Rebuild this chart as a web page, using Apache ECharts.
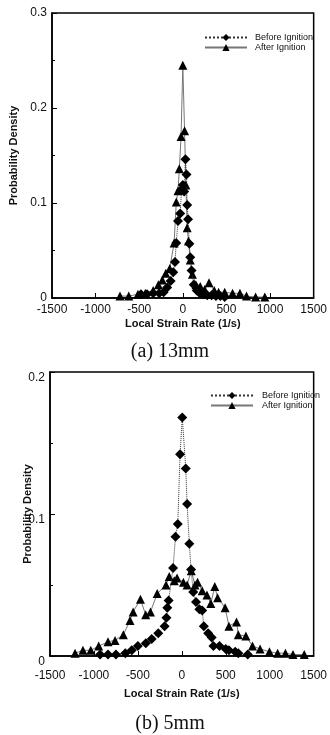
<!DOCTYPE html>
<html>
<head>
<meta charset="utf-8">
<script src="https://cdn.jsdelivr.net/npm/echarts@6/dist/echarts.min.js"></script>
<style>
html,body{margin:0;padding:0;background:#fff;}
#c{width:330px;height:735px;}
</style>
</head>
<body>
<div id="c"></div>
<script>
// ---- data (a) 13mm ----
const aBeforeX = [-480,-410,-340,-270,-220,-180,-140,-110,-90,-75,-55,-30,-15,0,15,30,42,50,60,75,85,100,125,160,195,235,280,330,380,430,480];
const aBeforeY = [0.004,0.004,0.005,0.005,0.006,0.011,0.018,0.027,0.038,0.058,0.081,0.089,0.114,0.119,0.112,0.146,0.13,0.098,0.083,0.057,0.043,0.029,0.014,0.008,0.005,0.004,0.003,0.003,0.002,0.002,0.001];
const aAfterX = [-720,-620,-515,-430,-340,-280,-235,-195,-150,-100,-75,-55,-40,-20,0,20,35,50,65,85,110,150,200,250,300,360,410,480,570,655,730,835,940];
const aAfterY = [0.002,0.002,0.004,0.005,0.008,0.014,0.019,0.026,0.031,0.058,0.101,0.113,0.136,0.17,0.245,0.176,0.119,0.074,0.06,0.04,0.025,0.014,0.012,0.009,0.016,0.008,0.006,0.006,0.005,0.005,0.002,0.001,0.001];
// ---- data (b) 5mm ----
const bBeforeX = [-930,-840,-750,-643,-570,-500,-410,-343,-268,-196,-175,-165,-150,-100,-72,-46,-20,5,45,60,85,105,130,161,200,232,250,300,340,360,429,500,536,607,643,750];
const bBeforeY = [0.001,0.001,0.001,0.002,0.004,0.007,0.009,0.012,0.016,0.021,0.027,0.034,0.039,0.062,0.084,0.093,0.142,0.168,0.132,0.107,0.079,0.061,0.045,0.038,0.033,0.032,0.021,0.016,0.013,0.007,0.007,0.005,0.004,0.003,0.002,0.001];
const bAfterX = [-1215,-1125,-1036,-946,-840,-760,-665,-590,-554,-471,-411,-357,-280,-180,-143,-86,-54,18,60,107,150,179,232,286,330,375,407,493,536,622,643,729,804,890,997,1090,1179,1265,1393];
const bAfterY = [0.002,0.004,0.004,0.007,0.010,0.011,0.015,0.025,0.031,0.040,0.029,0.031,0.044,0.050,0.056,0.053,0.055,0.052,0.050,0.060,0.050,0.052,0.046,0.043,0.037,0.049,0.041,0.034,0.021,0.024,0.015,0.014,0.007,0.005,0.003,0.002,0.002,0.001,0.001];
// ---- labels ----
const seriesNames = ['Before Ignition','After Ignition'];
const captions = ['(a) 13mm','(b) 5mm'];
const xName = 'Local Strain Rate (1/s)';
const yName = 'Probability Density';

const pair = (xs, ys) => xs.map((x,i)=>[x, ys[i]]);
const FONT = 'Liberation Sans';

function xAxisCfg(gi, labelMargin, nameGap){
  return {
    type:'value', gridIndex:gi, min:-1500, max:1500, interval:500,
    axisLine:{show:true, onZero:false, lineStyle:{color:'#000', width:1.5}},
    axisTick:{show:true, inside:true, length:5, lineStyle:{color:'#000'}},
    splitLine:{show:false},
    axisLabel:{color:'#111', fontFamily:FONT, fontSize:12, margin:labelMargin,
      showMaxLabel:true, showMinLabel:true, alignMinLabel:'center', alignMaxLabel:'center',
      hideOverlap:false, formatter:v => String(v)},
    name:xName, nameLocation:'middle', nameGap:nameGap, nameMoveOverlap:false,
    nameTextStyle:{color:'#111', fontFamily:FONT, fontSize:11, fontWeight:'bold'}
  };
}
function yAxisCfg(gi, max, nameGap, vAlign){
  return {
    type:'value', gridIndex:gi, min:0, max:max, interval:0.1,
    axisLine:{show:true, onZero:false, lineStyle:{color:'#000', width:1.5}},
    axisTick:{show:true, inside:true, length:5, lineStyle:{color:'#000'}},
    minorTick:{show:true, splitNumber:2, length:3, lineStyle:{color:'#000'}},
    splitLine:{show:false},
    axisLabel:{color:'#111', fontFamily:FONT, fontSize:12, margin:5, verticalAlign:vAlign,
      formatter:v => v===0 ? '0' : String(+v.toFixed(2))},
    name:yName, nameLocation:'middle', nameGap:nameGap, nameRotate:90, nameMoveOverlap:false,
    nameTextStyle:{color:'#111', fontFamily:FONT, fontSize:11, fontWeight:'bold'}
  };
}
function lineSeries(name, gi, data, isBefore){
  return {
    type:'line', name:name, xAxisIndex:gi, yAxisIndex:gi, data:data,
    symbol: isBefore ? 'diamond' : 'triangle',
    symbolSize: isBefore ? 10 : 9,
    itemStyle:{color:'#000'},
    lineStyle: isBefore ? {color:'#333', width:1, type:'dotted'} : {color:'#777', width:1, type:'solid'},
    animation:false, z: isBefore ? 3 : 2
  };
}

const chart = echarts.init(document.getElementById('c'), null, {renderer:'canvas'});
chart.setOption({
  animation:false,
  backgroundColor:'#fff',
  title:[
    {text:captions[0], left:165, top:337, textAlign:'center', textStyle:{fontFamily:'Liberation Serif', fontSize:20, fontWeight:'normal', color:'#111'}},
    {text:captions[1], left:165, top:709, textAlign:'center', textStyle:{fontFamily:'Liberation Serif', fontSize:20, fontWeight:'normal', color:'#111'}}
  ],
  legend:[
    {data:seriesNames, orient:'vertical', left:199, top:28, itemWidth:42, itemHeight:9, itemGap:1,
     textStyle:{fontFamily:FONT, fontSize:9, color:'#111', padding:[0,0,0,3]}},
    {data:seriesNames, orient:'vertical', left:205, top:386, itemWidth:42, itemHeight:9, itemGap:1,
     textStyle:{fontFamily:FONT, fontSize:9, color:'#111', padding:[20,0,0,4]}}
  ],
  grid:[
    {left:45, top:13, width:280, height:285, show:true, borderColor:'#000', borderWidth:1.5, backgroundColor:'transparent'},
    {left:50, top:372, width:280, height:284, show:true, borderColor:'#000', borderWidth:1.5, backgroundColor:'transparent'}
  ],
  xAxis:[ xAxisCfg(0, 6, 20), xAxisCfg(1, 14, 32) ],
  yAxis:[ yAxisCfg(0, 0.3, 33, 'middle'), yAxisCfg(1, 0.2, 17, 'top') ],
  series:[
    lineSeries(seriesNames[0], 0, pair(aBeforeX, aBeforeY), true),
    lineSeries(seriesNames[1], 0, pair(aAfterX, aAfterY), false),
    lineSeries(seriesNames[0], 1, pair(bBeforeX, bBeforeY), true),
    lineSeries(seriesNames[1], 1, pair(bAfterX, bAfterY), false)
  ]
});
</script>
</body>
</html>
